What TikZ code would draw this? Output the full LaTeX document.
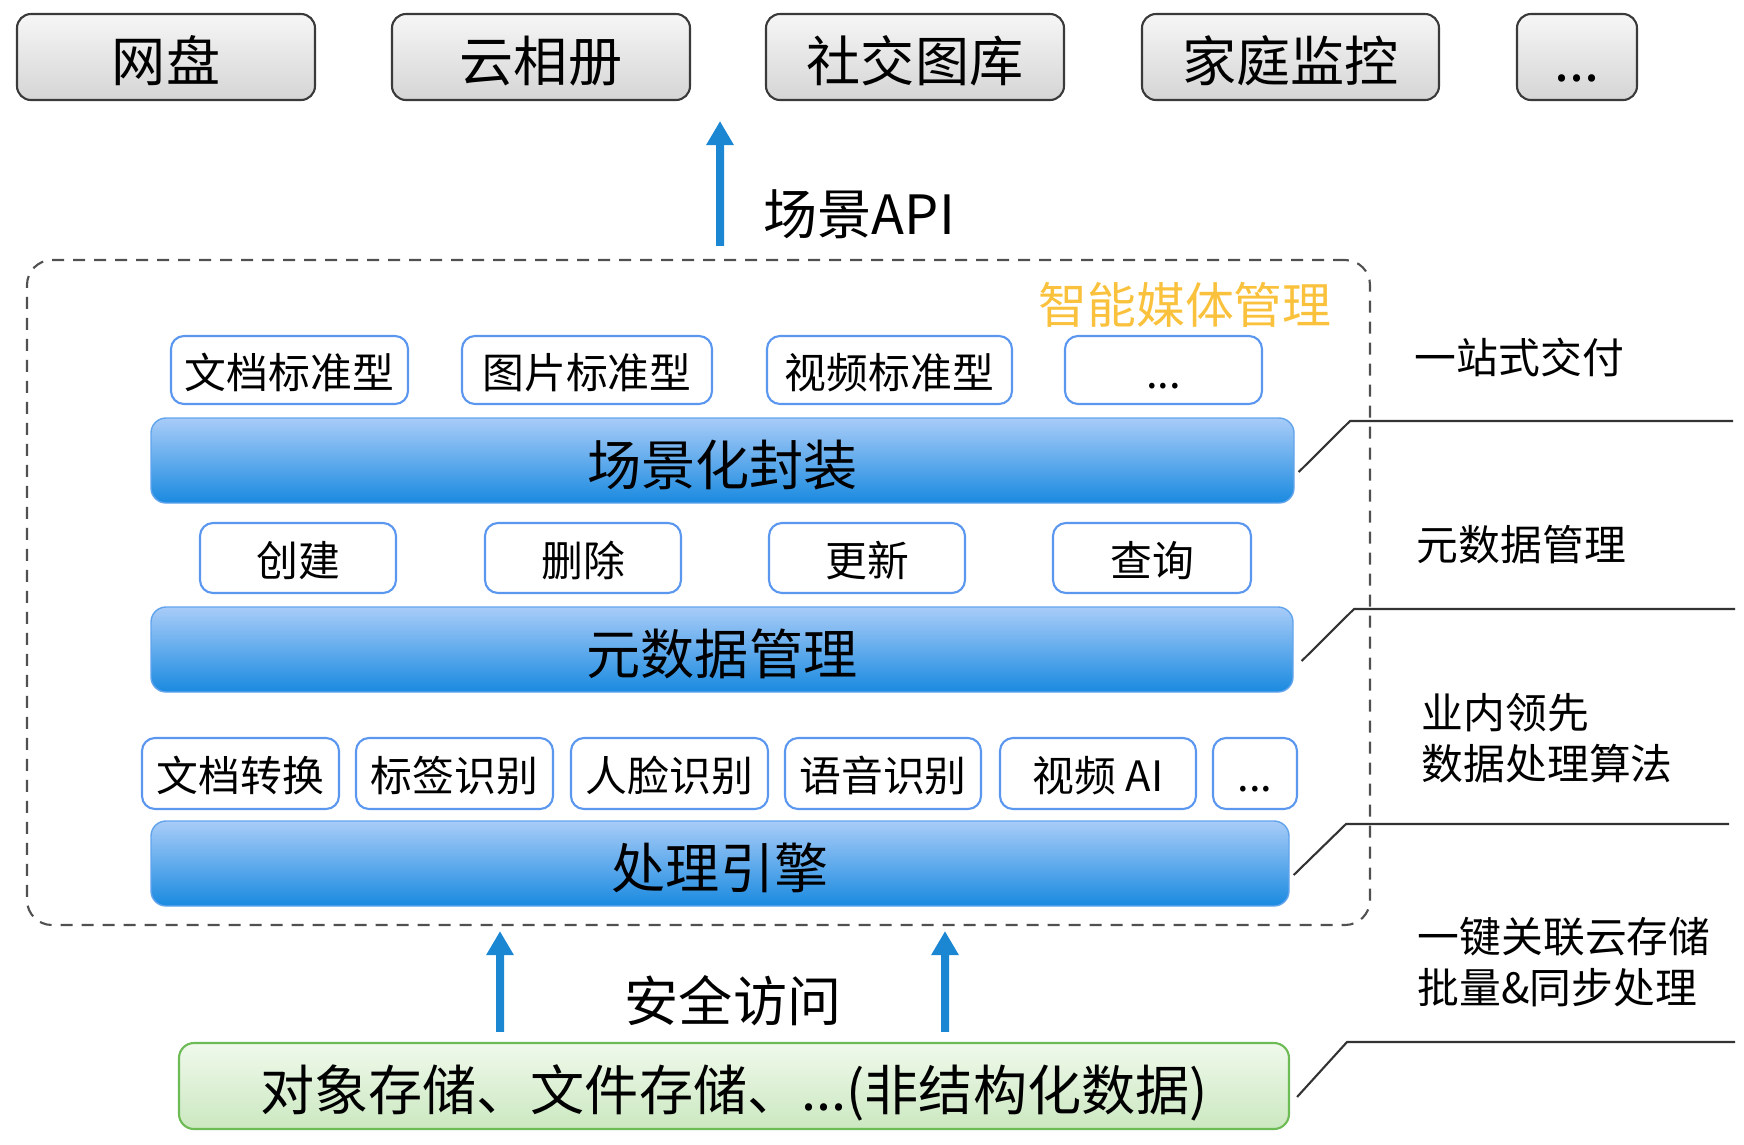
\documentclass[tikz,border=0pt]{standalone}
\usepackage{fontspec}
\setmainfont{Noto Sans CJK SC}
\usetikzlibrary{arrows.meta}

\definecolor{flowblue}{HTML}{1B87D3}
\definecolor{apptop}{HTML}{F6F6F6}
\definecolor{appbottom}{HTML}{D5D5D5}
\definecolor{appedge}{HTML}{3A3A3A}
\definecolor{bartop}{HTML}{A8CCF8}
\definecolor{barbottom}{HTML}{1A8AE0}
\definecolor{baredge}{HTML}{62A4EC}
\definecolor{chipedge}{HTML}{5B97EE}
\definecolor{storetop}{HTML}{F0F9EC}
\definecolor{storebottom}{HTML}{CBE8C0}
\definecolor{storeedge}{HTML}{6CBB55}
\definecolor{immorange}{HTML}{FAC13C}
\definecolor{frameedge}{HTML}{505050}
\definecolor{divgray}{HTML}{333333}

\begin{document}
\begin{tikzpicture}[x=0.1mm,y=-0.1mm,
    bigtext/.style={font=\fontsize{15.4}{18}\selectfont,text height=15.4pt,text depth=1.3pt},
    smalltext/.style={font=\fontsize{11.9}{14.5}\selectfont},
    appbox/.style={bigtext,draw=appedge,line width=0.6pt,rounded corners=1.4mm,
      top color=apptop,bottom color=appbottom,minimum height=8.6mm,inner sep=0pt},
    chip/.style={smalltext,draw=chipedge,line width=0.6pt,rounded corners=1.3mm,
      fill=white,inner sep=0pt,text height=11.4pt,text depth=1pt},
    layerbar/.style={bigtext,draw=baredge,line width=0.4pt,rounded corners=1.5mm,
      top color=bartop,bottom color=barbottom,minimum height=8.5mm,inner sep=0pt},
    storebar/.style={bigtext,draw=storeedge,line width=0.6pt,rounded corners=1.5mm,
      top color=storetop,bottom color=storebottom,minimum height=8.6mm,inner sep=0pt},
    flow/.style={draw=flowblue,line width=0.8mm,-{Triangle[width=2.6mm,length=2.4mm]}},
    divline/.style={draw=divgray,line width=0.6pt},
    sidelabel/.style={smalltext,anchor=west,align=left,inner sep=0pt}]

  \useasboundingbox (0,0) rectangle (1744,1144);

  \node[appbox,minimum width=29.8mm] (app1) at (166,57) {网盘};
  \node[appbox,minimum width=29.8mm] (app2) at (541,57) {云相册};
  \node[appbox,minimum width=29.8mm] (app3) at (915,57) {社交图库};
  \node[appbox,minimum width=29.7mm] (app4) at (1290.5,57) {家庭监控};
  \node[appbox,minimum width=12mm] (app5) at (1577,57) {...};

  \node[draw=frameedge,line width=0.6pt,dash pattern=on 1.2mm off 0.9mm,
    rounded corners=2.5mm,minimum width=134.3mm,minimum height=66.5mm] (imm) at (698.5,592.5) {};
  \node[font=\fontsize{13.9}{16}\selectfont,text=immorange] (immtitle) at (1185,305) {智能媒体管理};

  \coordinate (apitip) at (720,121);
  \draw[flow] ([xshift=2.15mm,yshift=1.3mm]imm.north) -- (apitip);
  \node[font=\fontsize{15.4}{18}\selectfont,anchor=west,inner sep=0pt] (apilabel) at (763,214) {场景API};

  \node[chip,minimum width=23.7mm,minimum height=6.8mm] (tpl1) at (289.5,370) {文档标准型};
  \node[chip,minimum width=25mm,minimum height=6.8mm] (tpl2) at (587,370) {图片标准型};
  \node[chip,minimum width=24.5mm,minimum height=6.8mm] (tpl3) at (889.5,370) {视频标准型};
  \node[chip,minimum width=19.7mm,minimum height=6.8mm] (tpl4) at (1163.5,370) {...};

  \node[layerbar,minimum width=114.3mm] (scene) at (722.5,460.5) {场景化封装};

  \node[chip,minimum width=19.6mm,minimum height=7mm] (op1) at (298,558) {创建};
  \node[chip,minimum width=19.6mm,minimum height=7mm] (op2) at (583,558) {删除};
  \node[chip,minimum width=19.6mm,minimum height=7mm] (op3) at (867,558) {更新};
  \node[chip,minimum width=19.8mm,minimum height=7mm] (op4) at (1152,558) {查询};

  \node[layerbar,minimum width=114.2mm] (meta) at (722,649.5) {元数据管理};

  \node[chip,minimum width=19.7mm,minimum height=7.1mm] (ai1) at (240.5,773.5) {文档转换};
  \node[chip,minimum width=19.7mm,minimum height=7.1mm] (ai2) at (454.5,773.5) {标签识别};
  \node[chip,minimum width=19.7mm,minimum height=7.1mm] (ai3) at (669.5,773.5) {人脸识别};
  \node[chip,minimum width=19.6mm,minimum height=7.1mm] (ai4) at (883,773.5) {语音识别};
  \node[chip,minimum width=19.6mm,minimum height=7.1mm] (ai5) at (1098,773.5) {视频 AI};
  \node[chip,minimum width=8.4mm,minimum height=7.1mm] (ai6) at (1255,773.5) {...};

  \node[layerbar,minimum width=113.8mm] (engine) at (720,863.5) {处理引擎};

  \node[storebar,minimum width=111mm] (store) at (734,1086) {对象存储、文件存储、...(非结构化数据)};

  \draw[flow] ([xshift=-23.4mm,yshift=1mm]store.north) -- ([xshift=-19.85mm,yshift=-0.5mm]imm.south);
  \draw[flow] ([xshift=21.1mm,yshift=1mm]store.north) -- ([xshift=24.65mm,yshift=-0.5mm]imm.south);
  \node[font=\fontsize{15.4}{18}\selectfont] (access) at (733,1001) {安全访问};

  \coordinate (k1) at (1350,421);
  \coordinate (e1) at (1733,421);
  \coordinate (k2) at (1354,609);
  \coordinate (e2) at (1735,609);
  \coordinate (k3) at (1346,824);
  \coordinate (e3) at (1729,824);
  \coordinate (k4) at (1347,1042);
  \coordinate (e4) at (1735,1042);
  \draw[divline] ([shift={(0.4mm,-1.15mm)}]scene.east) -- (k1) -- (e1);
  \draw[divline] ([shift={(0.8mm,-1.15mm)}]meta.east) -- (k2) -- (e2);
  \draw[divline] ([shift={(0.4mm,-1.15mm)}]engine.east) -- (k3) -- (e3);
  \draw[divline] ([shift={(0.7mm,-1.1mm)}]store.east) -- (k4) -- (e4);

  \node[sidelabel] (side1) at (1414,357) {一站式交付};
  \node[sidelabel] (side2) at (1416,545) {元数据管理};
  \node[sidelabel] (side3) at (1421,738.5) {业内领先\\数据处理算法};
  \node[sidelabel] (side4) at (1417,962) {一键关联云存储\\批量\&同步处理};
\end{tikzpicture}
\end{document}
